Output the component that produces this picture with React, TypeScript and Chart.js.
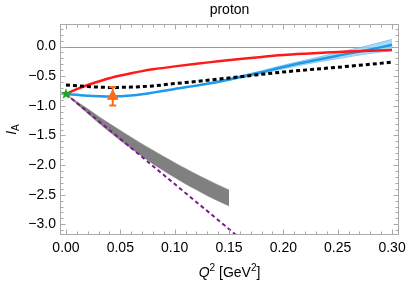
import React, { useEffect, useRef } from "react";
import { Chart, registerables } from "chart.js";

Chart.register(...registerables);

// ---------- data ----------
const xTicks = [0, 0.05, 0.1, 0.15, 0.2, 0.25, 0.3];
const yTicks = [0, -0.5, -1, -1.5, -2, -2.5, -3];

const redQ = [0, 0.01, 0.02, 0.03, 0.04, 0.05, 0.06, 0.07, 0.08, 0.1, 0.12, 0.14, 0.16, 0.18, 0.2, 0.22, 0.24, 0.26, 0.28, 0.3];
const redI = [-0.8, -0.72, -0.65, -0.59, -0.535, -0.49, -0.45, -0.415, -0.385, -0.335, -0.29, -0.25, -0.21, -0.175, -0.145, -0.122, -0.102, -0.086, -0.071, -0.057];

const blueQ = [0, 0.01, 0.02, 0.03, 0.043, 0.05, 0.06, 0.07, 0.08, 0.09, 0.1, 0.12, 0.14, 0.16, 0.18, 0.2, 0.22, 0.25, 0.28, 0.3];
const blueI = [-0.8, -0.815, -0.83, -0.84, -0.845, -0.838, -0.825, -0.805, -0.778, -0.748, -0.715, -0.66, -0.595, -0.515, -0.435, -0.345, -0.265, -0.155, -0.05, 0.03];

const blueBandQ = [0.1, 0.12, 0.14, 0.16, 0.18, 0.2, 0.22, 0.25, 0.28, 0.3];
const blueBandUp = [-0.713, -0.652, -0.582, -0.495, -0.41, -0.315, -0.23, -0.105, 0.025, 0.12];
const blueBandLo = [-0.717, -0.668, -0.608, -0.535, -0.46, -0.375, -0.3, -0.205, -0.115, -0.07];

const blackQ = [0, 0.02, 0.04, 0.06, 0.08, 0.1, 0.12, 0.15, 0.2, 0.25, 0.3];
const blackI = [-0.65, -0.675, -0.69, -0.685, -0.665, -0.625, -0.59, -0.53, -0.43, -0.35, -0.265];

const purpleQ = [0, 0.17];
const purpleI = [-0.8, -3.384];

const grayQ = [0, 0.01, 0.02, 0.03, 0.04, 0.05, 0.06, 0.07, 0.08, 0.09, 0.1, 0.11, 0.12, 0.13, 0.14, 0.15];
const grayUp = [-0.8, -0.93, -1.05, -1.18, -1.3, -1.415, -1.53, -1.643, -1.75, -1.857, -1.96, -2.058, -2.157, -2.246, -2.335, -2.42];
const grayLo = [-0.8, -0.97, -1.13, -1.29, -1.44, -1.585, -1.72, -1.853, -1.98, -2.097, -2.21, -2.318, -2.417, -2.516, -2.605, -2.69];

const starQ = [0];
const starI = [-0.8];

const expQ = [0.043];
const expI = [-0.84];
const expErr = [0.155];

// ---------- helpers ----------
const FAMILY = "'Liberation Sans', Arial, Helvetica, sans-serif";
const pts = (xs: number[], ys: number[]) => xs.map((x, i) => ({ x, y: ys[i] }));
const fmt = (v: number, d: number) => (v < 0 ? "\u2212" : "") + Math.abs(v).toFixed(d);

function makeStar(color: string, outer: number, inner: number) {
  const c = document.createElement("canvas");
  const s = Math.ceil(outer * 2 + 2);
  c.width = s;
  c.height = s;
  const ctx = c.getContext("2d")!;
  ctx.translate(s / 2, s / 2);
  ctx.beginPath();
  for (let i = 0; i < 10; i++) {
    const r = i % 2 === 0 ? outer : inner;
    const a = -Math.PI / 2 + (i * Math.PI) / 5;
    ctx.lineTo(r * Math.cos(a), r * Math.sin(a));
  }
  ctx.closePath();
  ctx.fillStyle = color;
  ctx.fill();
  return c;
}

const framePlugin = {
  id: "frame",
  beforeDatasetsDraw(chart: any) {
    const { ctx, chartArea: a, scales } = chart;
    const y0 = Math.round(scales.y.getPixelForValue(0)) + 0.5;
    ctx.save();
    ctx.strokeStyle = "#999999";
    ctx.lineWidth = 1;
    ctx.beginPath();
    ctx.moveTo(a.left, y0);
    ctx.lineTo(a.right, y0);
    ctx.stroke();
    ctx.restore();
  },
  afterDatasetsDraw(chart: any) {
    const { ctx, chartArea: a, scales } = chart;
    const xs = scales.x;
    const ys = scales.y;
    ctx.save();
    // error bars
    ctx.strokeStyle = "#ff6a13";
    ctx.lineWidth = 2;
    expQ.forEach((q, i) => {
      const px = xs.getPixelForValue(q);
      const t = ys.getPixelForValue(expI[i] + expErr[i]);
      const b = ys.getPixelForValue(expI[i] - expErr[i]);
      ctx.beginPath();
      ctx.moveTo(px, t);
      ctx.lineTo(px, b);
      ctx.moveTo(px - 3.5, t);
      ctx.lineTo(px + 3.5, t);
      ctx.moveTo(px - 3.5, b);
      ctx.lineTo(px + 3.5, b);
      ctx.stroke();
    });
    // frame
    ctx.strokeStyle = "#aaaaaa";
    ctx.lineWidth = 1;
    const L = Math.round(a.left) + 0.5;
    const R = Math.round(a.right) - 0.5;
    const T = Math.round(a.top) + 0.5;
    const B = Math.round(a.bottom) - 0.5;
    ctx.strokeRect(L, T, R - L, B - T);
    ctx.beginPath();
    for (let k = 0; k <= 30; k++) {
      const v = k * 0.01;
      const len = k % 5 === 0 ? 5 : 3;
      const px = Math.round(xs.getPixelForValue(v)) + 0.5;
      ctx.moveTo(px, B);
      ctx.lineTo(px, B - len);
      ctx.moveTo(px, T);
      ctx.lineTo(px, T + len);
    }
    for (let k = -32; k <= 3; k++) {
      const v = k * 0.1;
      const len = k % 5 === 0 ? 5 : 3;
      const py = Math.round(ys.getPixelForValue(v)) + 0.5;
      if (py < a.top || py > a.bottom) continue;
      ctx.moveTo(L, py);
      ctx.lineTo(L + len, py);
      ctx.moveTo(R, py);
      ctx.lineTo(R - len, py);
    }
    ctx.stroke();
    ctx.restore();
  },
  afterDraw(chart: any) {
    const { ctx, chartArea: a } = chart;
    ctx.save();
    ctx.fillStyle = "#000";
    ctx.textBaseline = "alphabetic";
    const xParts = [
      { t: "Q", f: `italic 14px ${FAMILY}`, dy: 0 },
      { t: "2", f: `10px ${FAMILY}`, dy: -6 },
      { t: " [GeV", f: `14px ${FAMILY}`, dy: 0 },
      { t: "2", f: `10px ${FAMILY}`, dy: -6 },
      { t: "]", f: `14px ${FAMILY}`, dy: 0 },
    ];
    let total = 0;
    xParts.forEach((p) => {
      ctx.font = p.f;
      total += ctx.measureText(p.t).width;
    });
    let x = (a.left + a.right) / 2 - total / 2;
    const base = 277;
    xParts.forEach((p) => {
      ctx.font = p.f;
      ctx.fillText(p.t, x, base + p.dy);
      x += ctx.measureText(p.t).width;
    });
    const yParts = [
      { t: "I", f: `italic 14px ${FAMILY}`, dy: 0 },
      { t: "A", f: `10px ${FAMILY}`, dy: 3 },
    ];
    total = 0;
    yParts.forEach((p) => {
      ctx.font = p.f;
      total += ctx.measureText(p.t).width;
    });
    ctx.translate(16, (a.top + a.bottom) / 2);
    ctx.rotate(-Math.PI / 2);
    let xx = -total / 2;
    yParts.forEach((p) => {
      ctx.font = p.f;
      ctx.fillText(p.t, xx, p.dy);
      xx += ctx.measureText(p.t).width;
    });
    ctx.restore();
  },
};

export default function App() {
  const ref = useRef<HTMLCanvasElement | null>(null);

  useEffect(() => {
    document.body.style.margin = "0";
    const canvas = ref.current!;
    const star = makeStar("#1fa51f", 5.8, 2.4);
    const lineBase = { pointRadius: 0, cubicInterpolationMode: "monotone" as const, fill: false };

    const chart = new Chart(canvas, {
      type: "line",
      data: {
        datasets: [
          { ...lineBase, data: pts(grayQ, grayLo), borderColor: "#808080", borderWidth: 0.5, order: 20 },
          { ...lineBase, data: pts(grayQ, grayUp), borderColor: "#808080", borderWidth: 0.5, backgroundColor: "#808080", fill: "-1", order: 19 },
          { ...lineBase, data: pts(purpleQ, purpleI), borderColor: "#7b1a8c", borderWidth: 2, borderDash: [4, 3], order: 18 },
          { ...lineBase, data: pts(blueBandQ, blueBandLo), borderColor: "rgba(110,190,240,0.8)", borderWidth: 1, order: 17 },
          { ...lineBase, data: pts(blueBandQ, blueBandUp), borderColor: "rgba(110,190,240,0.8)", borderWidth: 1, backgroundColor: "rgba(150,210,248,0.8)", fill: "-1", order: 16 },
          { ...lineBase, data: pts(blueQ, blueI), borderColor: "#1e9ae8", borderWidth: 2.5, order: 15 },
          { ...lineBase, data: pts(redQ, redI), borderColor: "#ff1a1a", borderWidth: 2.5, order: 14 },
          { ...lineBase, data: pts(blackQ, blackI), borderColor: "#000000", borderWidth: 3, borderDash: [4, 3], order: 13 },
          { data: pts(starQ, starI), showLine: false, pointStyle: star as any, pointRadius: 6, order: 2 },
          { data: pts(expQ, expI), showLine: false, pointStyle: "triangle", pointRadius: 6, backgroundColor: "#ff6a13", borderColor: "#ff6a13", borderWidth: 1, order: 1 },
        ] as any,
      },
      options: {
        animation: false,
        responsive: false,
        devicePixelRatio: 1,
        events: [],
        layout: { padding: { left: 0, right: 8, top: 0, bottom: 0 } },
        plugins: {
          legend: { display: false },
          tooltip: { enabled: false },
          title: {
            display: true,
            text: "proton",
            fullSize: false,
            color: "#000",
            font: { family: FAMILY, size: 14, weight: "normal" as any },
            padding: { top: 2, bottom: 5.2 },
          },
        },
        scales: {
          x: {
            type: "linear",
            min: -0.0055,
            max: 0.3064,
            grid: { display: false, drawTicks: false },
            border: { display: false },
            ticks: {
              padding: 5,
              color: "#000",
              font: { family: FAMILY, size: 14 },
              maxRotation: 0,
              autoSkip: false,
              callback: (v: any) => fmt(Number(v), 2),
            },
            afterBuildTicks: (s: any) => {
              s.ticks = xTicks.map((v) => ({ value: v }));
            },
            afterFit: (s: any) => {
              s.height = 49;
              s.paddingLeft = 0;
              s.paddingRight = 0;
            },
          },
          y: {
            type: "linear",
            min: -3.18,
            max: 0.38,
            grid: { display: false, drawTicks: false },
            border: { display: false },
            ticks: {
              padding: 4,
              color: "#000",
              font: { family: FAMILY, size: 14 },
              autoSkip: false,
              callback: (v: any) => fmt(Number(v), 1),
            },
            afterBuildTicks: (s: any) => {
              s.ticks = yTicks.map((v) => ({ value: v }));
            },
            afterFit: (s: any) => {
              s.width = 60;
              s.paddingTop = 0;
              s.paddingBottom = 0;
            },
          },
        },
      } as any,
      plugins: [framePlugin],
    });
    return () => chart.destroy();
  }, []);

  return (
    <div style={{ width: 407, height: 284 }}>
      <canvas ref={ref} width={407} height={284} style={{ display: "block" }} />
    </div>
  );
}
